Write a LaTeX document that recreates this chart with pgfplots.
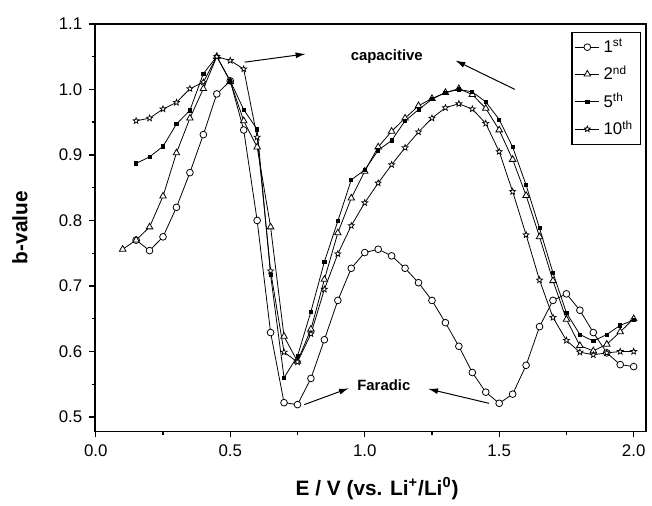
\documentclass[border=0pt]{standalone}
\usepackage{fontspec}
\setmainfont{Liberation Sans}
\usepackage{pgfplots}
\pgfplotsset{compat=1.18}
\usetikzlibrary{arrows.meta}

% open five-point star mark
\pgfdeclareplotmark{ostar}{%
  \pgfpathmoveto{\pgfpointpolar{90}{\pgfplotmarksize}}%
  \pgfpathlineto{\pgfpointpolar{126}{0.42*\pgfplotmarksize}}%
  \pgfpathlineto{\pgfpointpolar{162}{\pgfplotmarksize}}%
  \pgfpathlineto{\pgfpointpolar{198}{0.42*\pgfplotmarksize}}%
  \pgfpathlineto{\pgfpointpolar{234}{\pgfplotmarksize}}%
  \pgfpathlineto{\pgfpointpolar{270}{0.42*\pgfplotmarksize}}%
  \pgfpathlineto{\pgfpointpolar{306}{\pgfplotmarksize}}%
  \pgfpathlineto{\pgfpointpolar{342}{0.42*\pgfplotmarksize}}%
  \pgfpathlineto{\pgfpointpolar{18}{\pgfplotmarksize}}%
  \pgfpathlineto{\pgfpointpolar{54}{0.42*\pgfplotmarksize}}%
  \pgfpathclose
  \pgfusepathqfillstroke}

\pgfplotstableread{
E b
0.15 0.770
0.20 0.754
0.25 0.775
0.30 0.820
0.35 0.873
0.40 0.931
0.45 0.993
0.50 1.013
0.55 0.938
0.60 0.800
0.65 0.629
0.70 0.522
0.75 0.519
0.80 0.559
0.85 0.618
0.90 0.678
0.95 0.727
1.00 0.751
1.05 0.756
1.10 0.746
1.15 0.727
1.20 0.705
1.25 0.678
1.30 0.644
1.35 0.608
1.40 0.568
1.45 0.538
1.50 0.521
1.55 0.535
1.60 0.579
1.65 0.638
1.70 0.678
1.75 0.688
1.80 0.663
1.85 0.629
1.90 0.598
1.95 0.580
2.00 0.577
}\first

\pgfplotstableread{
E b
0.10 0.756
0.15 0.770
0.20 0.790
0.25 0.837
0.30 0.903
0.35 0.956
0.40 1.001
0.45 1.050
0.50 1.012
0.55 0.952
0.60 0.912
0.65 0.790
0.70 0.623
0.75 0.585
0.80 0.634
0.85 0.710
0.90 0.781
0.95 0.834
1.00 0.875
1.05 0.912
1.10 0.936
1.15 0.956
1.20 0.975
1.25 0.986
1.30 0.995
1.35 1.001
1.40 0.992
1.45 0.971
1.50 0.938
1.55 0.893
1.60 0.838
1.65 0.775
1.70 0.708
1.75 0.649
1.80 0.609
1.85 0.601
1.90 0.611
1.95 0.630
2.00 0.650
}\second

\pgfplotstableread{
E b
0.15 0.887
0.20 0.897
0.25 0.913
0.30 0.947
0.35 0.968
0.40 1.024
0.45 1.050
0.50 1.013
0.55 0.969
0.60 0.939
0.65 0.717
0.70 0.560
0.75 0.593
0.80 0.661
0.85 0.737
0.90 0.799
0.95 0.862
1.00 0.877
1.05 0.907
1.10 0.922
1.15 0.952
1.20 0.969
1.25 0.985
1.30 0.995
1.35 1.000
1.40 0.996
1.45 0.981
1.50 0.954
1.55 0.912
1.60 0.854
1.65 0.788
1.70 0.720
1.75 0.659
1.80 0.626
1.85 0.616
1.90 0.626
1.95 0.640
2.00 0.648
}\fifth

\pgfplotstableread{
E b
0.15 0.952
0.20 0.956
0.25 0.970
0.30 0.980
0.35 1.001
0.40 1.011
0.45 1.050
0.50 1.044
0.55 1.031
0.60 0.927
0.65 0.723
0.70 0.599
0.75 0.584
0.80 0.627
0.85 0.695
0.90 0.749
0.95 0.792
1.00 0.827
1.05 0.857
1.10 0.885
1.15 0.911
1.20 0.935
1.25 0.956
1.30 0.972
1.35 0.978
1.40 0.970
1.45 0.948
1.50 0.905
1.55 0.844
1.60 0.778
1.65 0.709
1.70 0.652
1.75 0.617
1.80 0.599
1.85 0.595
1.90 0.598
1.95 0.600
2.00 0.600
}\tenth

\begin{document}
\begin{tikzpicture}
\begin{axis}[
  scale only axis, width=277.5pt, height=205.5pt,
  xmin=-0.002, xmax=2.045, ymin=0.478, ymax=1.1,
  xtick={0,0.5,...,2}, minor x tick num=1,
  ytick={0.5,0.6,...,1.1}, minor y tick num=1,
  tick pos=left, tick align=outside,
  major tick length=3pt, minor tick length=1.8pt,
  every tick/.style={black, line width=0.7pt},
  axis line style={line width=0.9pt},
  tick label style={font=\fontsize{8.5}{9}\selectfont},
  /pgf/number format/assume math mode=true,
  /pgf/number format/.cd, fixed, fixed zerofill, precision=1,
  /pgfplots/.cd,
  xlabel={\textbf{E / V (vs. Li\textsuperscript{+}/Li\textsuperscript{0})}},
  ylabel={\textbf{b-value}},
  xlabel style={font=\fontsize{10.5}{12}\selectfont, at={(axis description cs:0.512,-0.139)}, anchor=center},
  ylabel style={font=\fontsize{10.5}{12}\selectfont, at={(axis description cs:-0.137,0.5)}, anchor=center},
  legend style={at={(axis description cs:0.865,0.981)}, anchor=north west,
    draw=black, line width=0.6pt, font=\fontsize{8.5}{9}\selectfont,
    row sep=1.2pt, inner sep=1.5pt},
  legend cell align=left,
  legend image code/.code={\draw[mark repeat=2,mark phase=2,#1] plot coordinates {(0pt,0pt) (6pt,0pt) (12pt,0pt)};},
  every axis plot/.append style={black, line width=0.4pt},
  clip=false,
]
\addplot[mark=*, mark size=1.7pt, mark options={fill=white, line width=0.4pt}] table {\first};
\addlegendentry{1\textsuperscript{st}}
\addplot[mark=triangle*, mark size=1.9pt, mark options={fill=white, line width=0.4pt}] table {\second};
\addlegendentry{2\textsuperscript{nd}}
\addplot[mark=square*, mark size=0.8pt, mark options={fill=black}] table {\fifth};
\addlegendentry{5\textsuperscript{th}}
\addplot[mark=ostar, mark size=1.6pt, mark options={fill=white, line width=0.35pt}] table {\tenth};
\addlegendentry{10\textsuperscript{th}}

% annotations
\draw[-{Latex[length=5pt,width=3pt]}, line width=0.5pt] (axis cs:0.554,1.0415) -- (axis cs:0.78,1.054);
\node[font=\bfseries\fontsize{7.5}{8}\selectfont] at (axis cs:1.082,1.050) {capacitive};
\draw[-{Latex[length=5pt,width=3pt]}, line width=0.5pt] (axis cs:1.558,1.0) -- (axis cs:1.337,1.044);
\draw[-{Latex[length=5pt,width=3pt]}, line width=0.5pt] (axis cs:0.775,0.519) -- (axis cs:0.941,0.544);
\node[font=\bfseries\fontsize{7.5}{8}\selectfont] at (axis cs:1.071,0.549) {Faradic};
\draw[-{Latex[length=5pt,width=3pt]}, line width=0.5pt] (axis cs:1.462,0.521) -- (axis cs:1.236,0.543);

\path (axis description cs:-0.173,-0.1703) rectangle (axis description cs:1.0018,1.0584);
\end{axis}
\end{tikzpicture}
\end{document}
